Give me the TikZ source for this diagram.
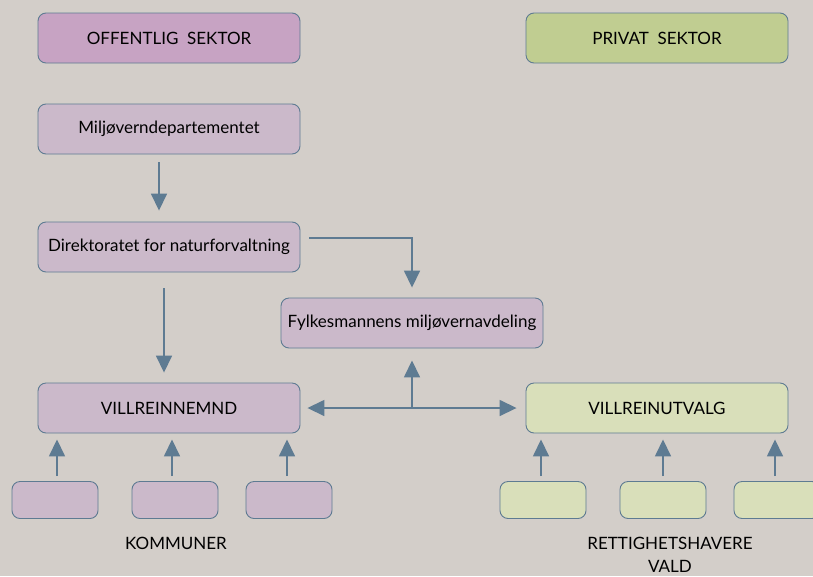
\documentclass[tikz,border=0pt]{standalone}
\usepackage{fontspec}
\setmainfont{Lato}
\usepackage{xcolor}
\usepackage{tikz}
\usetikzlibrary{arrows.meta}
\definecolor{bg}{HTML}{D3CEC9}
\definecolor{edge}{HTML}{5E7B92}
\definecolor{pubdark}{HTML}{C7A3C3}
\definecolor{publight}{HTML}{CBB9CA}
\definecolor{privdark}{HTML}{C0CD91}
\definecolor{privlight}{HTML}{D9DFBA}
\tikzstyle{sector} = [rectangle, rounded corners=8pt, minimum width=262pt, minimum height=50pt, inner sep=0pt, text centered, draw=edge, line width=0.9pt, font=\fontsize{17}{20}\selectfont]
\tikzstyle{pub} = [sector, fill=publight]
\tikzstyle{priv} = [sector, fill=privlight]
\tikzstyle{unit} = [rectangle, rounded corners=8pt, minimum width=86pt, minimum height=37pt, draw=edge, line width=0.9pt]
\tikzstyle{label} = [align=center, inner sep=0pt, font=\fontsize{17}{23}\selectfont]
\tikzstyle{arrow} = [draw=edge, line width=1.6pt, -{Triangle[width=16pt,length=17pt]}]
\tikzstyle{dblarrow} = [draw=edge, line width=1.6pt, {Triangle[width=16pt,length=17pt]}-{Triangle[width=16pt,length=17pt]}]

\begin{document}
\begin{tikzpicture}[x=1pt, y=-1pt]
\useasboundingbox (0,0) rectangle (813,576);
\clip (0,0) rectangle (813,576);
\fill[bg] (0,0) rectangle (813,576);
% sectors
\node (off) [sector, fill=pubdark] at (169,38) {OFFENTLIG\ \ SEKTOR};
\node (priv) [sector, fill=privdark] at (657,38) {PRIVAT\ \ SEKTOR};
% offentlig
\node (miljo) [pub] at (169,129) {Miljøverndepartementet};
\node (dir) [pub] at (169,247) {Direktoratet for naturforvaltning};
\node (fylk) [pub] at (412,323) {Fylkesmannens miljøvernavdeling};
\node (nemnd) [pub] at (169,408) {VILLREINNEMND};
\node (utvalg) [priv] at (657,408) {VILLREINUTVALG};
% kommuner and rettighetshavere
\node (k1) [unit, fill=publight] at (55,500) {};
\node (k2) [unit, fill=publight] at (175,500) {};
\node (k3) [unit, fill=publight] at (289,500) {};
\node (r1) [unit, fill=privlight] at (543,500) {};
\node (r2) [unit, fill=privlight] at (663,500) {};
\node (r3) [unit, fill=privlight] at (777,500) {};
\node (komm) [label] at (176,543) {KOMMUNER};
\node (rett) [label] at (670,555) {RETTIGHETSHAVERE\\VALD};
% arrows
\draw [arrow, shorten <=8pt, shorten >=11pt] ([xshift=-10pt]miljo.south) -- ([xshift=-10pt]dir.north);
\draw [arrow, shorten <=16pt, shorten >=10pt] ([xshift=-5pt]dir.south) -- ([xshift=-5pt]nemnd.north);
\draw [arrow] ([xshift=9pt,yshift=9pt]dir.east) -| ([yshift=10pt]fylk.north);
\draw [dblarrow, shorten <=7pt, shorten >=9pt] (nemnd.east) -- (utvalg.west);
\coordinate (mid) at (fylk |- nemnd);
\draw [arrow, shorten >=12pt] (mid) -- (fylk.south);
\foreach \k/\dx in {k1/2, k2/-3, k3/-2} {
  \draw [arrow, shorten <=5pt, shorten >=6pt] ([xshift=\dx pt]\k.north) -- ([xshift=\dx pt]\k.north |- nemnd.south);
}
\foreach \r/\dx in {r1/-2, r2/0, r3/-2} {
  \draw [arrow, shorten <=5pt, shorten >=6pt] ([xshift=\dx pt]\r.north) -- ([xshift=\dx pt]\r.north |- utvalg.south);
}
\end{tikzpicture}
\end{document}
